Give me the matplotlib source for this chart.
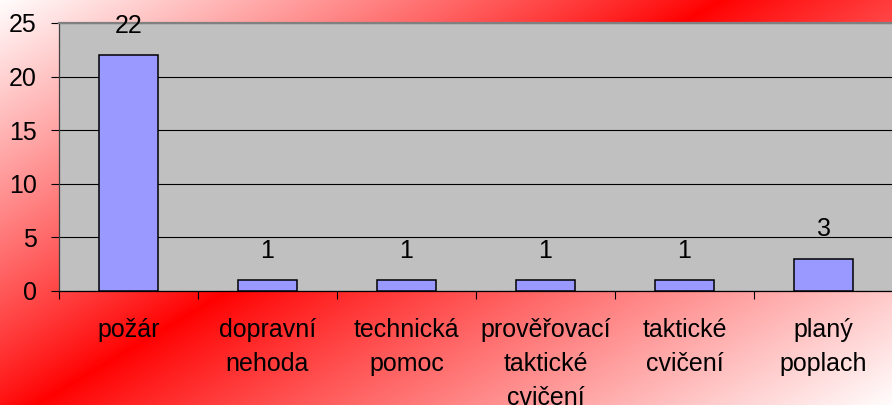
import numpy as np
import matplotlib
matplotlib.use("Agg")
import matplotlib.pyplot as plt

# Data.
categories = ["požár", "dopravní\nnehoda", "technická\npomoc",
              "prověřovací\ntaktické\ncvičení", "taktické\ncvičení", "planý\npoplach"]
counts = [22, 1, 1, 1, 1, 3]
y_ticks = [0, 5, 10, 15, 20, 25]

W, H = 892, 405
plt.rcParams['font.family'] = ['Liberation Sans', 'DejaVu Sans']

fig = plt.figure(figsize=(W / 100, H / 100), dpi=100)

# Diagonal red band background, fading to white at the corners.
yy, xx = np.mgrid[0:H, 0:W]
p0 = np.array([720.0, 0.0])
d = np.array([-686.0, 405.0])
n = np.array([d[1], -d[0]]) / np.hypot(*d)
n = -n if n[1] < 0 else n
dist = (xx - p0[0]) * n[0] + (yy - p0[1]) * n[1]
t = np.where(dist < 0, -dist / 370.0, dist / 440.0)
t = np.clip(t, 0, 1) ** 0.9
red = np.array([1.0, 0.0, 0.0])
white = np.array([1.0, 1.0, 1.0])
bg = red[None, None, :] * (1 - t[..., None]) + white[None, None, :] * t[..., None]

bg_ax = fig.add_axes([0, 0, 1, 1], zorder=-1)
bg_ax.imshow(bg, aspect='auto', interpolation='bilinear')
bg_ax.axis('off')

# Plot area in pixel terms: left 59, right 893, top 23, bottom 291.
ax = fig.add_axes([59 / W, (H - 291) / H, (893 - 59) / W, (291 - 23) / H])
ax.set_facecolor('#c0c0c0')

x = np.arange(len(categories))
ax.bar(x, counts, width=0.42, color='#9999ff', edgecolor='black', linewidth=1.1, zorder=3)
for xi, v in zip(x, counts):
    ax.annotate(str(v), (xi, v), xytext=(0, 12.5), textcoords='offset points',
                ha='center', va='bottom', fontsize=18, zorder=4)

ax.set_xlim(-0.5, len(categories) - 0.5)
ax.set_ylim(0, 25)
ax.set_yticks(y_ticks)
ax.yaxis.grid(True, color='black', linewidth=0.8, zorder=1)
ax.set_axisbelow(True)

ax.set_xticks(x)
ax.set_xticklabels(categories, fontsize=18, linespacing=1.52)
ax.set_xticks(np.arange(len(categories) + 1) - 0.5, minor=True)
ax.tick_params(axis='x', which='major', length=0, pad=19.5)
ax.tick_params(axis='x', which='minor', length=6, width=0.8, color='black', direction='out')
ax.tick_params(axis='y', length=6, width=0.8, color='black', direction='out', pad=10, labelsize=18)

ax.spines['top'].set_color('#808080')
ax.spines['top'].set_linewidth(1.6)
ax.spines['right'].set_visible(False)
ax.spines['left'].set_color('#404040')
ax.spines['left'].set_linewidth(0.9)
ax.spines['bottom'].set_color('black')
ax.spines['bottom'].set_linewidth(0.9)

fig.savefig('out.png', dpi=100)
